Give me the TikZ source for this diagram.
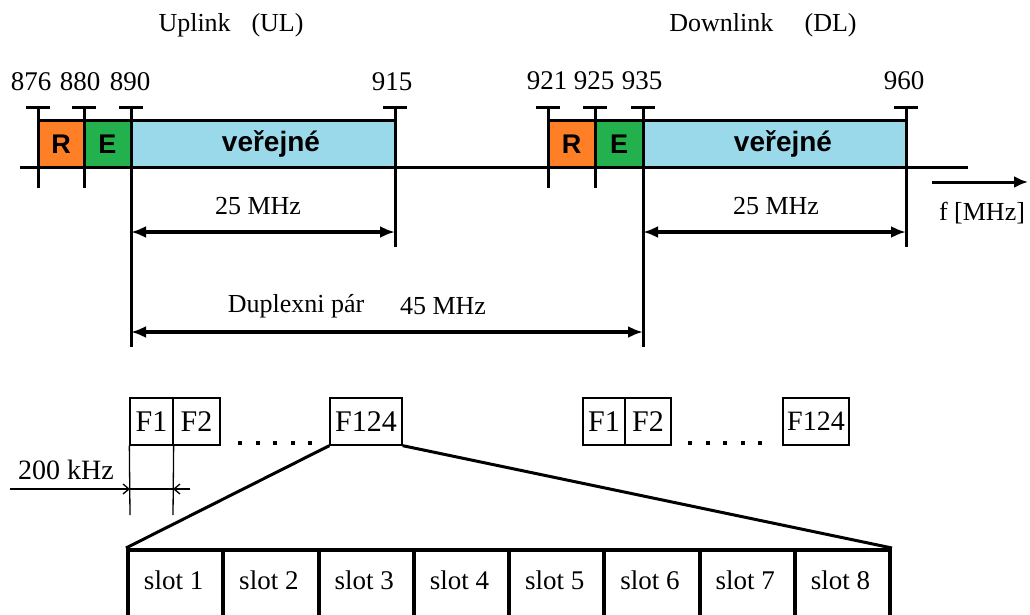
\documentclass[tikz,border=0pt]{standalone}
\usepackage{fontspec}
\setmainfont{Liberation Serif}
\newfontfamily\boldsans{Liberation Sans}
\usetikzlibrary{arrows.meta}
\definecolor{bandR}{RGB}{255,127,39}
\definecolor{bandE}{RGB}{34,177,76}
\definecolor{bandP}{RGB}{153,217,234}
\begin{document}
\begin{tikzpicture}[x=1pt,y=-1pt,
  thk/.style={line width=3pt},
  bandbox/.style={draw, line width=3pt, minimum height=47pt, inner sep=0pt},
  bandtext/.style={inner sep=0pt, font=\boldsans\bfseries\fontsize{27}{30}\selectfont},
  widetext/.style={inner sep=0pt, font=\boldsans\bfseries\fontsize{28}{30}\selectfont},
  txt/.style={inner sep=0pt, font=\fontsize{26}{30}\selectfont},
  numtxt/.style={inner sep=0pt, font=\fontsize{27}{30}\selectfont},
  ftxt/.style={draw, line width=1.3pt, minimum height=47pt, inner sep=0pt, font=\fontsize{30}{32}\selectfont},
  slotbox/.style={draw, line width=4pt, minimum width=95.25pt, minimum height=80pt, inner sep=0pt, anchor=north west},
  slottxt/.style={inner sep=0pt, font=\fontsize{27}{30}\selectfont},
  dimarrow/.style={line width=4pt, {Latex[length=15pt,width=12pt]}-{Latex[length=15pt,width=12pt]}},
  smallarrow/.style={line width=1.3pt, -{Straight Barb[length=6pt,width=10pt]}}
]
\useasboundingbox (0,0) rectangle (1030,614);
\clip (0,0) rectangle (1030,614);

% titles
\node[txt] (ul) at (231,25) {Uplink\hspace{0.8em}(UL)};
\node[txt] (dl) at (763,25) {Downlink\hspace{1.2em}(DL)};

% bands
\node[bandbox, fill=bandR, minimum width=46pt] (rU) at (61,143.5) {};
\node[bandbox, fill=bandE, minimum width=47pt] (eU) at (107.5,143.5) {};
\node[bandbox, fill=bandP, minimum width=264pt] (pU) at (263,143.5) {};
\node[bandbox, fill=bandR, minimum width=47pt] (rD) at (571.5,143.5) {};
\node[bandbox, fill=bandE, minimum width=48pt] (eD) at (619,143.5) {};
\node[bandbox, fill=bandP, minimum width=263pt] (pD) at (774.5,143.5) {};
\node[bandtext] (rUt) at (61,144) {R};
\node[bandtext] (eUt) at (107.5,144) {E};
\node[widetext] (pUt) at (271,144) {veřejné};
\node[bandtext] (rDt) at (571.5,144) {R};
\node[bandtext] (eDt) at (619,144) {E};
\node[widetext] (pDt) at (783,144) {veřejné};

% axis
\coordinate (axL) at (20,167);
\coordinate (axR) at (968,167);
\draw[thk] (axL) -- (axR);

% ticks
\foreach \n/\x/\b in {876/38/188, 880/84/188, 890/131/347, 915/395/247,
                      921/548/188, 925/595/188, 935/643/347, 960/906/247}{
  \coordinate (top\n) at (\x,107);
  \coordinate (bot\n) at (\x,\b);
  \draw[thk] (top\n) -- (bot\n);
  \draw[thk] ([xshift=-12pt]top\n) -- ([xshift=12pt]top\n);
}

% tick labels
\node[numtxt] (l876) at (31,82) {876};
\node[numtxt] (l880) at (80,82) {880};
\node[numtxt] (l890) at (130,82) {890};
\node[numtxt] (l915) at (392,82) {915};
\node[numtxt] (l921) at (547,81) {921};
\node[numtxt] (l925) at (594,81) {925};
\node[numtxt] (l935) at (642,81) {935};
\node[numtxt] (l960) at (904,81) {960};

% 25 MHz dimensions
\coordinate (dU1) at (131,232);
\coordinate (dU2) at (395,232);
\coordinate (dD1) at (643,232);
\coordinate (dD2) at (906,232);
\draw[dimarrow] (dU1) -- (dU2);
\draw[dimarrow] (dD1) -- (dD2);
\node[txt] (mU) at (258,206) {25 MHz};
\node[txt] (mD) at (776,206) {25 MHz};

% duplex
\coordinate (dx1) at (131,332);
\coordinate (dx2) at (643,332);
\draw[dimarrow] (dx1) -- (dx2);
\node[txt] (dup) at (296,306) {Duplexni pár};
\node[txt] (d45) at (443,306) {45 MHz};

% frequency axis arrow
\coordinate (fa1) at (932,182);
\coordinate (fa2) at (1028,182);
\draw[line width=3pt, -{Latex[length=14pt,width=12pt]}] (fa1) -- (fa2);
\node[txt] (fl) at (982,213) {f [MHz]};

% channel boxes UL
\node[ftxt, minimum width=43pt] (f1U) at (151.5,421.5) {F1};
\node[ftxt, minimum width=47pt] (f2U) at (196.5,421.5) {F2};
\node[ftxt, minimum width=72pt] (f124U) at (366,421.5) {F124};
\foreach \i in {0,...,4} \fill (240+\i*17.5-2,441) rectangle ++(4,4);
% channel boxes DL
\node[ftxt, minimum width=42pt] (f1D) at (604,421.5) {F1};
\node[ftxt, minimum width=46pt] (f2D) at (648,421.5) {F2};
\node[ftxt, minimum width=66pt, font=\fontsize{28}{32}\selectfont] (f124D) at (816,421.5) {F124};
\foreach \i in {0,...,4} \fill (690+\i*17.5-2,441) rectangle ++(4,4);

% 200 kHz
\coordinate (kA) at (130,515);
\coordinate (kB) at (173,515);
\draw[line width=1.3pt] (f1U.south west) -- (kA);
\draw[line width=1.3pt] (f1U.south east) -- (kB);
\coordinate (k0) at (10,489);
\coordinate (k1) at (130,489);
\coordinate (k2) at (173,489);
\coordinate (k3) at (190,489);
\draw[smallarrow] (k0) -- (k1);
\draw[smallarrow] (k3) -- (k2);
\draw[line width=1.3pt] (k1) -- (k2);
\node[txt, font=\fontsize{28}{30}\selectfont] (khz) at (66,470) {200 kHz};

% slots
\foreach \i in {1,...,8}{
  \node[slotbox] (s\i) at ({126+(\i-1)*95.25},548) {};
  \node[slottxt] (st\i) at ({126+(\i-0.5)*95.25},580) {slot \i};
}

% zoom lines
\draw[thk] (f124U.south west) -- (s1.north west);
\draw[thk] (f124U.south east) -- (s8.north east);
\end{tikzpicture}
\end{document}
